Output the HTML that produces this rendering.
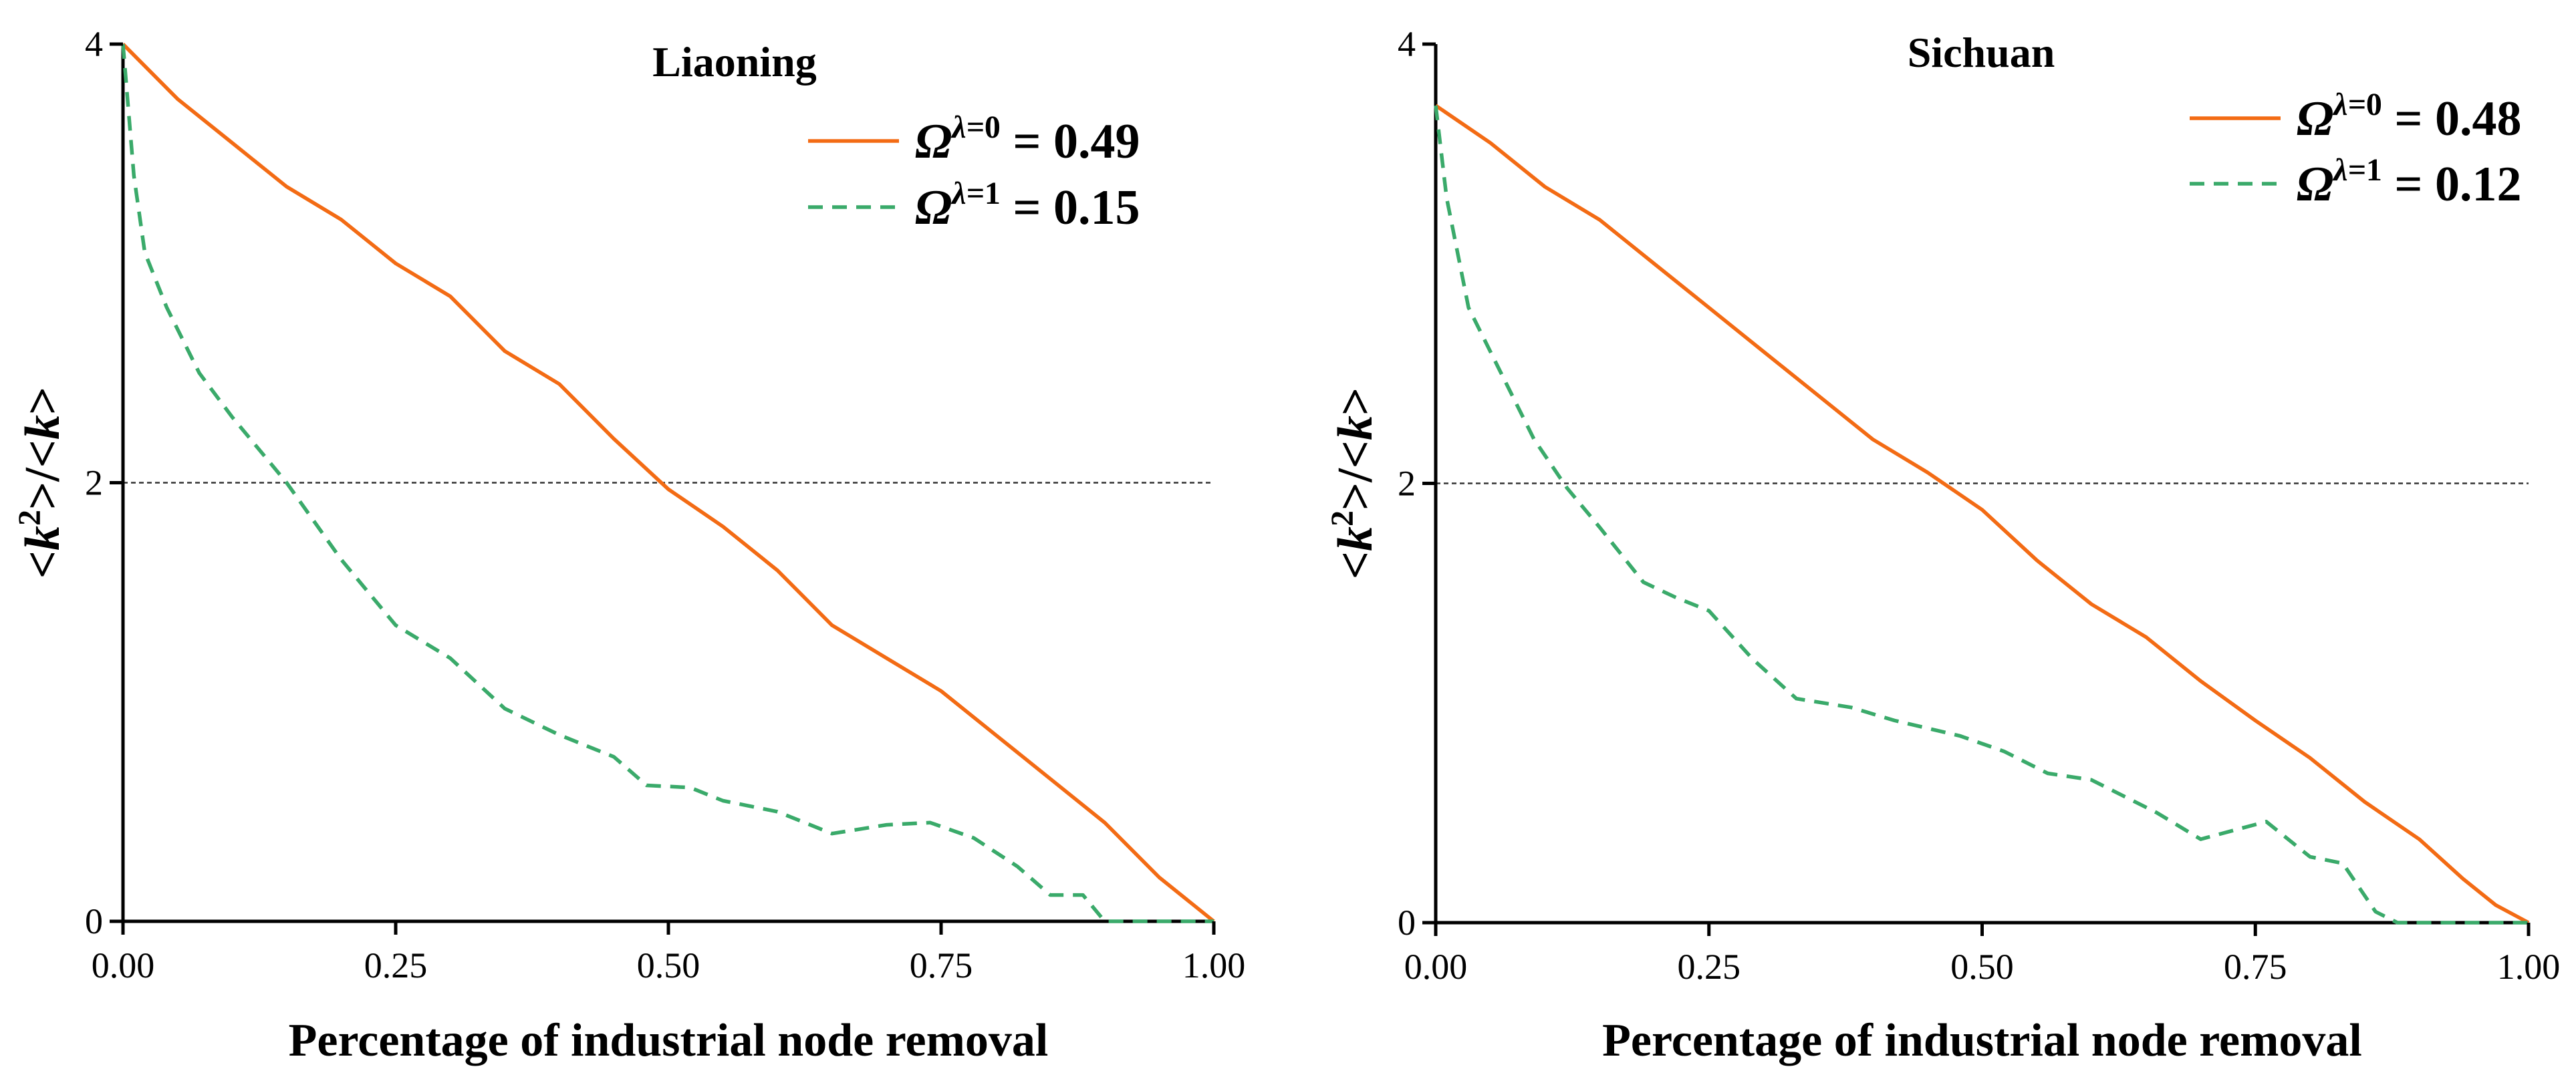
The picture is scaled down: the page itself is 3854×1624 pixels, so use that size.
<!DOCTYPE html>
<html><head><meta charset="utf-8"><style>
html,body{margin:0;padding:0;background:#fff;}
svg{display:block;}
text{font-family:"Liberation Serif",serif;}
</style></head><body>
<svg id="chart" width="3854" height="1624" viewBox="0 0 3854 1624" xmlns="http://www.w3.org/2000/svg"></svg>
<script>
const xTicks=[0,0.25,0.5,0.75,1.0];
const xTickLabels=["0.00","0.25","0.50","0.75","1.00"];
const yTicks=[0,2,4];
const yTickLabels=["0","2","4"];
const panelTitles=["Liaoning","Sichuan"];
const legendVals0=["0.49","0.48"];
const legendVals1=["0.15","0.12"];
const liaoX0=[0,0.05,0.1,0.15,0.2,0.25,0.3,0.35,0.4,0.45,0.5,0.55,0.6,0.65,0.7,0.75,0.8,0.85,0.9,0.95,1.0];
const liaoY0=[4.0,3.75,3.55,3.35,3.2,3.0,2.85,2.6,2.45,2.2,1.97,1.8,1.6,1.35,1.2,1.05,0.85,0.65,0.45,0.2,0];
const liaoX1=[0,0.01,0.02,0.04,0.07,0.1,0.15,0.2,0.25,0.3,0.35,0.4,0.45,0.48,0.52,0.55,0.6,0.65,0.7,0.74,0.78,0.82,0.85,0.88,0.9,1.0];
const liaoY1=[4,3.4,3.05,2.8,2.5,2.3,2.0,1.65,1.35,1.2,0.97,0.85,0.75,0.62,0.61,0.55,0.5,0.4,0.44,0.45,0.38,0.25,0.12,0.12,0,0];
const sichX0=[0,0.05,0.1,0.15,0.2,0.25,0.3,0.35,0.4,0.45,0.5,0.55,0.6,0.65,0.7,0.75,0.8,0.85,0.9,0.94,0.97,1.0];
const sichY0=[3.72,3.55,3.35,3.2,3.0,2.8,2.6,2.4,2.2,2.05,1.88,1.65,1.45,1.3,1.1,0.92,0.75,0.55,0.38,0.2,0.08,0];
const sichX1=[0,0.01,0.03,0.06,0.09,0.12,0.15,0.19,0.22,0.25,0.29,0.33,0.38,0.42,0.48,0.52,0.56,0.6,0.66,0.7,0.73,0.76,0.8,0.83,0.86,0.88,1.0];
const sichY1=[3.72,3.3,2.8,2.5,2.2,1.98,1.8,1.55,1.48,1.42,1.2,1.02,0.98,0.92,0.85,0.78,0.68,0.65,0.5,0.38,0.42,0.46,0.3,0.27,0.05,0,0];

const svg=document.getElementById('chart');
const NS='http://www.w3.org/2000/svg';
function mk(tag,attrs,parent){const e=document.createElementNS(NS,tag);for(const k in attrs)e.setAttribute(k,attrs[k]);(parent||svg).appendChild(e);return e;}

const panels=[
 {x0:184,x1:1816,yTop:66,yBot:1379,title:[1099,92],leg:[1209,1345,211,310,1369],data:[[liaoX0,liaoY0],[liaoX1,liaoY1]],name:'liaoning'},
 {x0:2148,x1:3783,yTop:66,yBot:1381,title:[2964,78],leg:[3276,3412,177,275,3436],data:[[sichX0,sichY0],[sichX1,sichY1]],name:'sichuan'}
];
panels.forEach((p,i)=>{
 const g=mk('g',{});
 
 
 const sx=v=>p.x0+v*(p.x1-p.x0);
 const sy=v=>p.yBot-v/4*(p.yBot-p.yTop);
 const ref=mk('line',{x1:sx(0),x2:sx(1),y1:sy(2),y2:sy(2),stroke:'#333','stroke-width':2.5,'stroke-dasharray':'7,5'},g);
 
 
 const ya=mk('line',{x1:p.x0,x2:p.x0,y1:p.yTop,y2:p.yBot,stroke:'#000','stroke-width':5},g);
 
 
 const xa=mk('line',{x1:p.x0,x2:p.x1,y1:p.yBot,y2:p.yBot,stroke:'#000','stroke-width':5},g);
 
 
 const styles=[{c:'#f36b14',d:''},{c:'#3aaa6a',d:'22,14'}];
 p.data.forEach((s,j)=>{
  const pts=s[0].map((x,k)=>sx(x).toFixed(1)+','+sy(s[1][k]).toFixed(1)).join(' ');
  const pl=mk('polyline',{points:pts,fill:'none',stroke:styles[j].c,'stroke-width':5.5,'stroke-linejoin':'round','stroke-dasharray':styles[j].d},g);
  
  
 });
 xTicks.forEach((t,k)=>{
  mk('line',{x1:sx(t),x2:sx(t),y1:p.yBot,y2:p.yBot+20,stroke:'#000','stroke-width':5},g);
  const tl=mk('text',{x:sx(t),y:p.yBot+84,'text-anchor':'middle','font-size':54},g);
  tl.textContent=xTickLabels[k];
  
  
 });
 yTicks.forEach((t,k)=>{
  mk('line',{x1:p.x0-20,x2:p.x0,y1:sy(t),y2:sy(t),stroke:'#000','stroke-width':5},g);
  const tl=mk('text',{x:p.x0-30,y:sy(t)+18,'text-anchor':'end','font-size':54},g);
  tl.textContent=yTickLabels[k];
  
  
 });
 const xt=mk('text',{x:(p.x0+p.x1)/2,y:1580,'text-anchor':'middle','font-size':70,'font-weight':'bold'},g);
 xt.textContent='Percentage of industrial node removal';
 
 
 const yt=mk('text',{x:0,y:0,'text-anchor':'middle','font-size':74,'font-weight':'bold',transform:`translate(${p.x0-96},${sy(2)}) rotate(-90)`},g);
 yt.innerHTML='&lt;<tspan font-style="italic">k</tspan><tspan font-size="48" dy="-28">2</tspan><tspan dy="28">&gt;/&lt;</tspan><tspan font-style="italic">k</tspan>&gt;';
 
 
 const tt=mk('text',{x:p.title[0],y:p.title[1]+22,'text-anchor':'middle','font-size':64,'font-weight':'bold'},g);
 tt.textContent=panelTitles[i];
 
 
 const L=p.leg;
 [[L[2],styles[0],'0',legendVals0[i]],[L[3],styles[1],'1',legendVals1[i]]].forEach(e=>{
  const ll=mk('line',{x1:L[0],x2:L[1],y1:e[0],y2:e[0],stroke:e[1].c,'stroke-width':5.5,'stroke-dasharray':e[1].d},g);
  
  
  const lt=mk('text',{x:L[4],y:e[0]+25,'font-size':74,'font-weight':'bold'},g);
  lt.innerHTML='<tspan font-style="italic">Ω</tspan><tspan font-size="48" dy="-30" font-style="italic">λ=</tspan><tspan font-size="48">'+e[2]+'</tspan><tspan dy="30"> = '+e[3]+'</tspan>';
  
  
 });
});
</script>
</body></html>
